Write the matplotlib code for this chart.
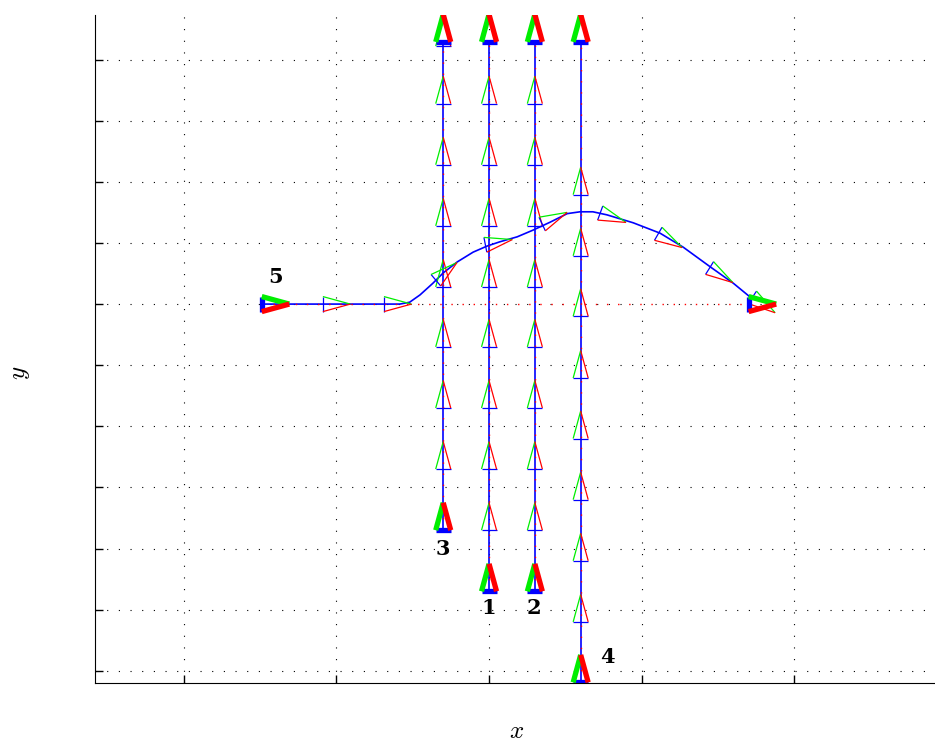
"""Multi-robot trajectories with pose triangles (5 robots)."""

import matplotlib

matplotlib.use("Agg")
import matplotlib.pyplot as plt
import numpy as np

plt.rcParams["mathtext.fontset"] = "cm"

# vertical robots 1..4 (x column, start y, goal y)
robot_ids = ["1", "2", "3", "4"]
robot_x = [0.0, 0.75, -0.75, 1.5]
start_y = [-4.70, -4.70, -3.70, -6.19]
goal_y = [4.29, 4.29, 4.29, 4.29]

# intermediate poses along each vertical path (heading straight up)
marks_y = [
    [-3.70, -2.70, -1.70, -0.70, 0.28, 1.28, 2.28, 3.28],
    [-3.70, -2.70, -1.70, -0.70, 0.28, 1.28, 2.28, 3.28],
    [-2.70, -1.70, -0.70, 0.28, 1.28, 2.28, 3.28, 4.22],
    [-5.20, -4.20, -3.20, -2.20, -1.21, -0.20, 0.79, 1.79],
]

# robot 5: horizontal start/goal with a detour over the others
r5_start = (-3.72, 0.0)
r5_goal = (4.25, 0.0)
r5_path_x = [-3.72, -1.46, -1.30, -1.13, -0.92, -0.75, -0.52, -0.26, -0.03, 0.18,
             0.46, 0.72, 1.00, 1.28, 1.49, 1.70, 1.93, 2.36, 2.80, 3.18, 3.62,
             4.00, 4.28]
r5_path_y = [0.0, 0.0, 0.03, 0.15, 0.34, 0.51, 0.69, 0.85, 0.95, 1.02,
             1.10, 1.21, 1.34, 1.48, 1.51, 1.51, 1.46, 1.33, 1.16, 0.93, 0.61,
             0.34, 0.11]
r5_marks_x = [-2.72, -1.72, -0.87, -0.06, 0.87, 1.82, 2.77, 3.61, 4.31]
r5_marks_y = [0.0, 0.0, 0.39, 0.97, 1.31, 1.49, 1.15, 0.59, 0.11]
r5_marks_heading = [0, 0, 40, 11, 25, -20, -30, -32, -34]

label_pos = {"1": (0.0, -4.97), "2": (0.74, -4.97), "3": (-0.75, -4.0),
             "4": (1.93, -5.78), "5": (-3.49, 0.44)}

L = 0.45   # triangle length
W = 0.123  # half base width
DOT = (0, (1, 9.5))


def draw_pose(ax, x, y, heading, thick=False):
    h = np.deg2rad(heading)
    fx, fy = np.cos(h), np.sin(h)
    lx, ly = -fy, fx
    apex = (x + L * fx, y + L * fy)
    left = (x + W * lx, y + W * ly)
    right = (x - W * lx, y - W * ly)
    lw = 3.8 if thick else 0.9
    z = 6 if thick else 4
    ax.plot([left[0], right[0]], [left[1], right[1]], color="blue", lw=lw,
            solid_capstyle="butt", zorder=z)
    ax.plot([left[0], apex[0]], [left[1], apex[1]], color="#00ee00", lw=lw,
            solid_capstyle="butt", zorder=z)
    ax.plot([right[0], apex[0]], [right[1], apex[1]], color="red", lw=lw,
            solid_capstyle="butt", zorder=z)


def main() -> None:
    fig = plt.figure(figsize=(9.35, 7.42), dpi=100)
    ax = fig.add_axes([95 / 935, 59 / 742, 840 / 935, 668 / 742])

    for i in range(4):
        x = robot_x[i]
        ax.plot([x, x], [start_y[i], goal_y[i]], color="blue", lw=1.2, zorder=2)
        ax.plot([x, x], [start_y[i], goal_y[i]], color="red", lw=1.0,
                linestyle=(0, (1, 7)), zorder=3)
        for my in marks_y[i]:
            draw_pose(ax, x, my, 90)
        draw_pose(ax, x, start_y[i], 90, thick=True)
        draw_pose(ax, x, goal_y[i], 90, thick=True)

    ax.plot(r5_path_x, r5_path_y, color="blue", lw=1.2, zorder=2)
    ax.plot([r5_start[0], r5_goal[0]], [r5_start[1], r5_goal[1]], color="red",
            lw=1.0, linestyle=(0, (1, 7)), zorder=3)
    for mx, my, mh in zip(r5_marks_x, r5_marks_y, r5_marks_heading):
        draw_pose(ax, mx, my, mh)
    draw_pose(ax, r5_start[0], r5_start[1], 0, thick=True)
    draw_pose(ax, r5_goal[0], r5_goal[1], 0, thick=True)

    for name, (lx, ly) in label_pos.items():
        ax.text(lx, ly, name, fontsize=15, fontweight="bold",
                family="DejaVu Serif", ha="center", va="center", zorder=8)

    ax.set_xlim(-6.45, 7.30)
    ax.set_ylim(-6.20, 4.73)
    ax.set_xticks([-5, -2.5, 0, 2.5, 5])
    ax.set_yticks(range(-6, 5))
    ax.set_xticklabels([])
    ax.set_yticklabels([])
    ax.tick_params(direction="in", length=6, width=1.0)
    ax.grid(True, color="black", lw=0.8, linestyle=DOT)
    ax.spines["top"].set_visible(False)
    ax.spines["right"].set_visible(False)
    ax.set_axisbelow(True)

    ax.set_xlabel(r"$x$", fontsize=18, va="center")
    ax.xaxis.set_label_coords(0.502, -(731 - 683) / 668)
    ax.set_ylabel(r"$y$", fontsize=18, va="center")
    ax.yaxis.set_label_coords(-(95 - 20) / 840, (683 - 373) / 668)

    fig.savefig("out.png", dpi=100)
    plt.close(fig)


if __name__ == "__main__":
    main()
